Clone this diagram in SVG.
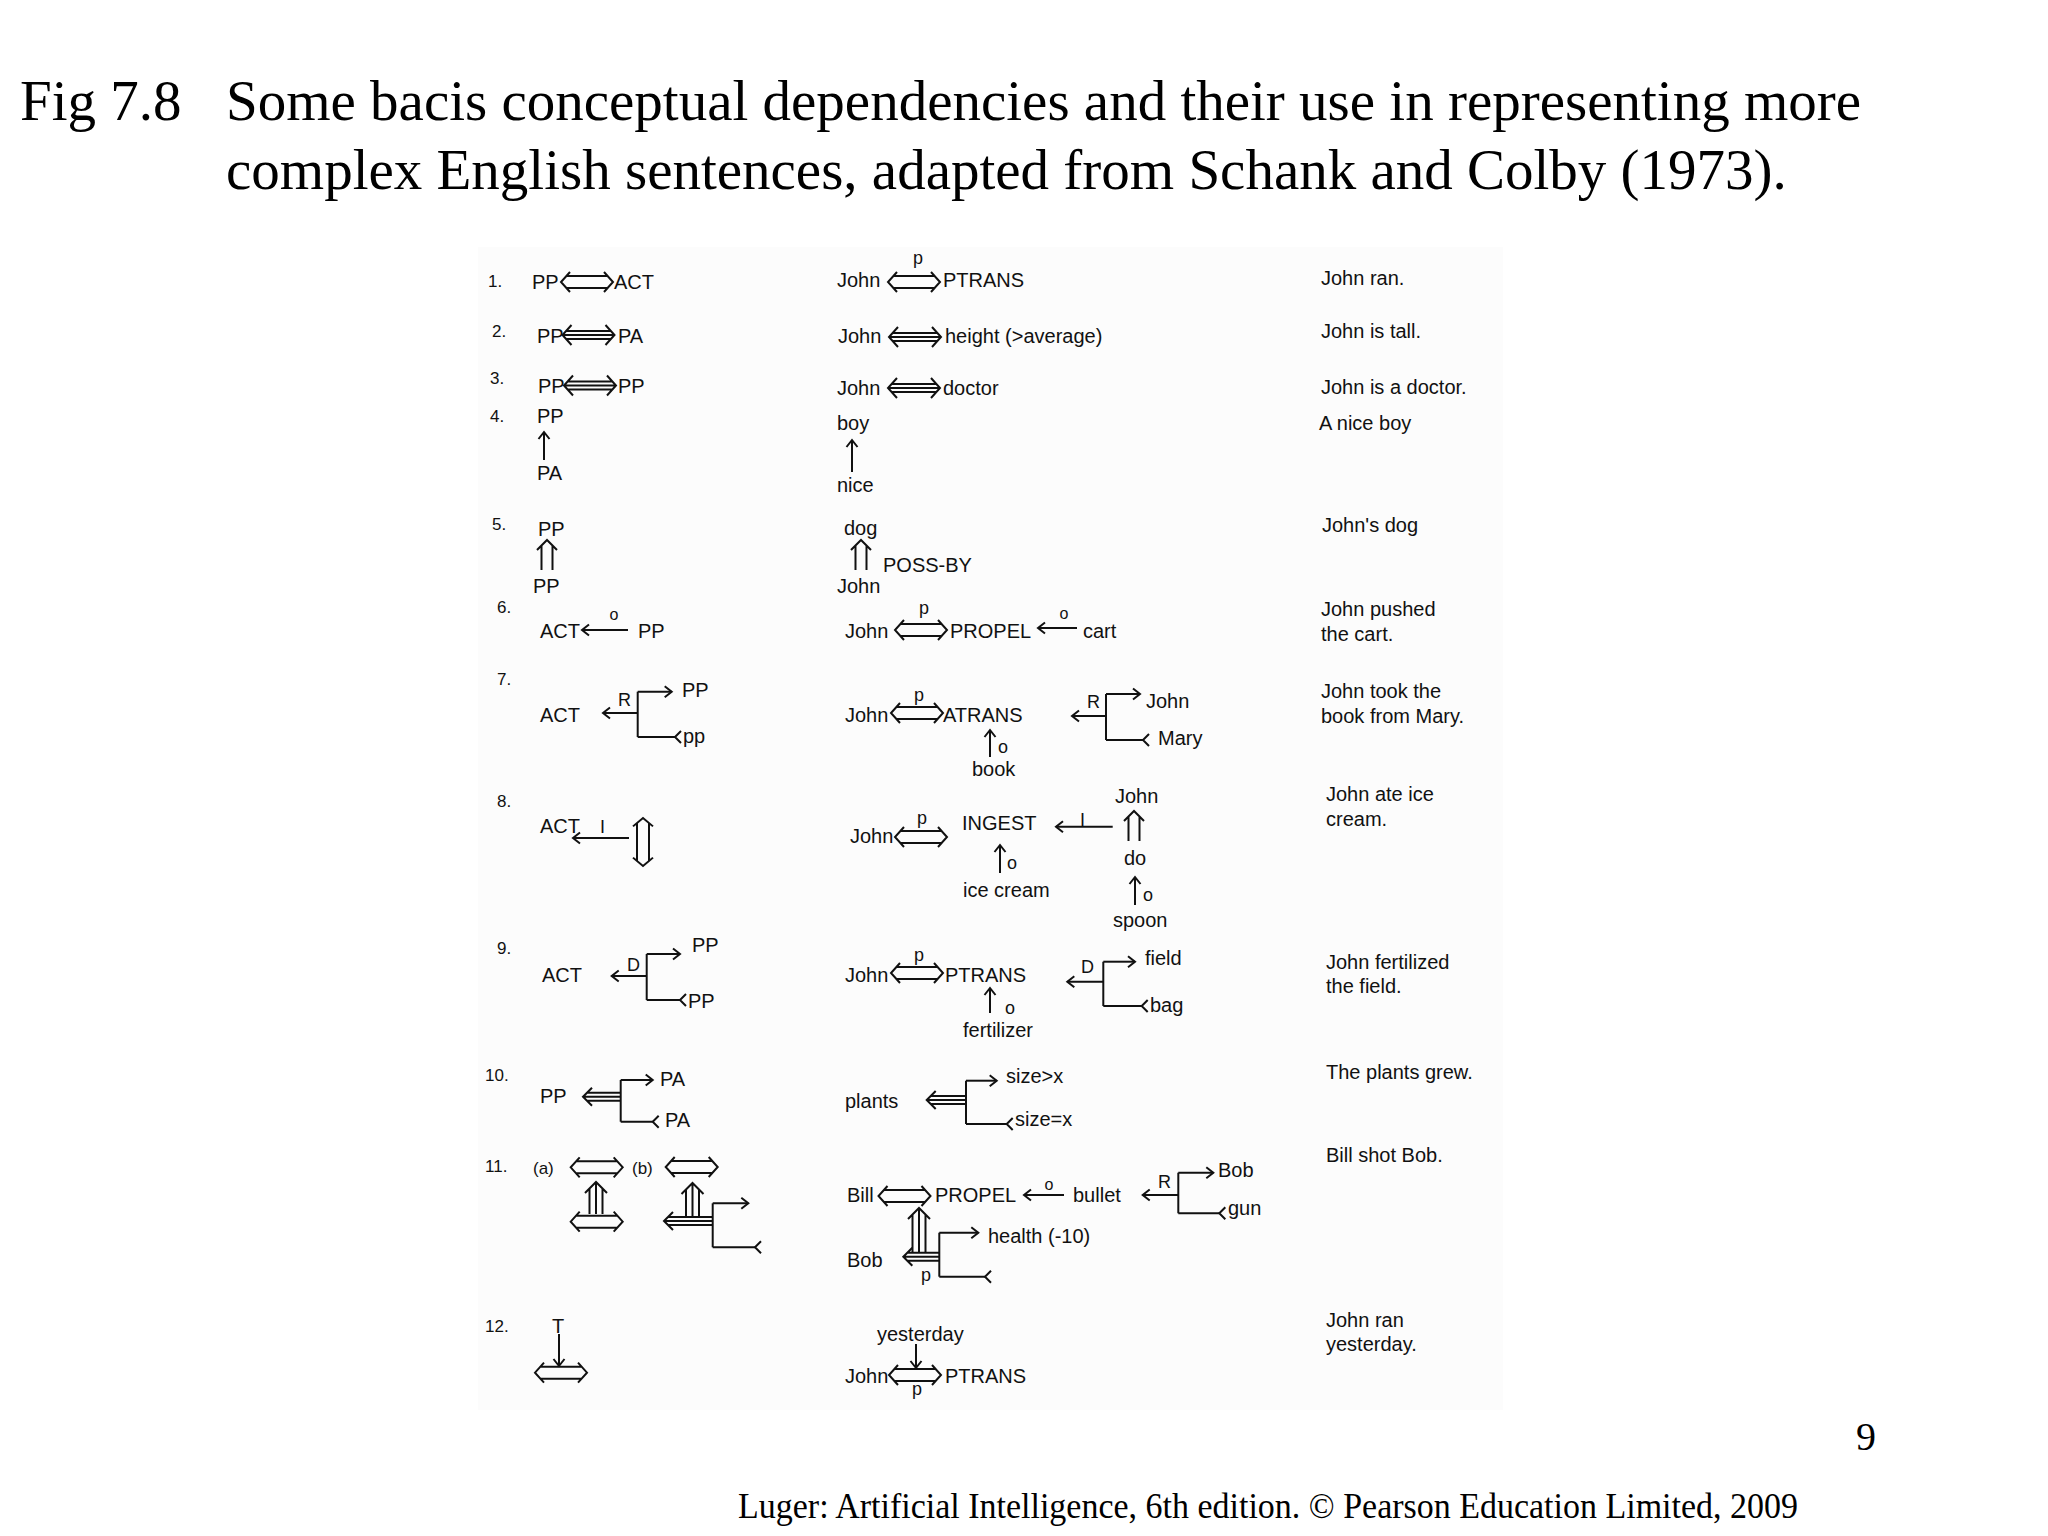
<svg xmlns="http://www.w3.org/2000/svg" width="2048" height="1536" viewBox="0 0 2048 1536">
<style>
.t{font-family:"Liberation Sans",Arial,sans-serif;font-size:20px;fill:#111}
.n{font-size:17px}
.s{font-size:18px}
.o{font-size:16px}
.m{text-anchor:middle}
.ln{fill:none;stroke:#111;stroke-width:2}
.ttl{font-family:"Liberation Serif","Times New Roman",serif;font-size:57px;fill:#000}
.ft{font-family:"Liberation Serif","Times New Roman",serif;fill:#000}
</style>
<defs>
<marker id="ah" viewBox="-10 -10 20 20" markerWidth="20" markerHeight="20" refX="0" refY="0" orient="auto" markerUnits="userSpaceOnUse"><path d="M-7,-5.5 L0,0 L-7,5.5" fill="none" stroke="#111" stroke-width="2"/></marker>
<marker id="tl" viewBox="-10 -10 20 20" markerWidth="20" markerHeight="20" refX="0" refY="0" orient="auto" markerUnits="userSpaceOnUse"><path d="M6,-6 L0,0 L6,6" fill="none" stroke="#111" stroke-width="2"/></marker>
<path id="dbl" class="ln" d="M-17,-10 L-26,0 L-17,10 M17,-10 L26,0 L17,10 M-20.6,-6 H20.6 M-20.6,6 H20.6"/>
<path id="tri" class="ln" d="M-17,-10 L-26,0 L-17,10 M17,-10 L26,0 L17,10 M-22.4,-4 H22.4 M-22.4,4 H22.4 M-25,0 H25"/>
<path id="dup" class="ln" d="M-10,10 L0,0 L10,10 M-5.5,5.5 V30 M5.5,5.5 V30"/>
</defs>
<rect width="2048" height="1536" fill="#fff"/>
<rect x="478" y="247" width="1025" height="1163" fill="#fcfcfc"/>

<g id="title">
<text class="ttl" x="20" y="120">Fig 7.8</text>
<text class="ttl" x="226" y="120">Some bacis conceptual dependencies and their use in representing more</text>
<text class="ttl" x="226" y="189">complex English sentences, adapted from Schank and Colby (1973).</text>
</g>

<g id="row-numbers" class="t n">
<text x="488" y="287">1.</text>
<text x="492" y="337">2.</text>
<text x="490" y="384">3.</text>
<text x="490" y="422">4.</text>
<text x="492" y="530">5.</text>
<text x="497" y="613">6.</text>
<text x="497" y="685">7.</text>
<text x="497" y="807">8.</text>
<text x="497" y="954">9.</text>
<text x="485" y="1081">10.</text>
<text x="485" y="1172">11.</text>
<text x="485" y="1332">12.</text>
</g>

<g id="r1-schema" class="t"><text x="532" y="289">PP</text><text x="614" y="289">ACT</text></g>
<g id="r2-schema" class="t"><text x="537" y="343">PP</text><text x="618" y="343">PA</text></g>
<g id="r3-schema" class="t"><text x="538" y="393">PP</text><text x="618" y="393">PP</text></g>
<g id="r4-schema" class="t"><text x="537" y="423">PP</text><text x="537" y="480">PA</text></g>
<g id="r5-schema" class="t"><text x="538" y="536">PP</text><text x="533" y="593">PP</text></g>
<g id="r6-schema" class="t"><text x="540" y="638">ACT</text><text class="o m" x="614" y="620">o</text><text x="638" y="638">PP</text></g>
<g id="r7-schema" class="t"><text x="540" y="722">ACT</text><text class="s" x="618" y="706">R</text><text x="682" y="697">PP</text><text x="683" y="743">pp</text></g>
<g id="r8-schema" class="t"><text x="540" y="833">ACT</text><text class="s" x="600" y="833">I</text></g>
<g id="r9-schema" class="t"><text x="542" y="982">ACT</text><text class="s" x="627" y="971">D</text><text x="692" y="952">PP</text><text x="688" y="1008">PP</text></g>
<g id="r10-schema" class="t"><text x="540" y="1103">PP</text><text x="660" y="1086">PA</text><text x="665" y="1127">PA</text></g>
<g id="r11-schema" class="t"><text class="n" x="533" y="1174">(a)</text><text class="n" x="632" y="1174">(b)</text></g>
<g id="r12-schema" class="t"><text class="m" x="558" y="1333">T</text></g>

<g id="r1-example" class="t"><text x="837" y="287">John</text><text class="s m" x="918" y="264">p</text><text x="943" y="287">PTRANS</text></g>
<g id="r2-example" class="t"><text x="838" y="343">John</text><text x="945" y="343">height (&gt;average)</text></g>
<g id="r3-example" class="t"><text x="837" y="395">John</text><text x="943" y="395">doctor</text></g>
<g id="r4-example" class="t"><text x="837" y="430">boy</text><text x="837" y="492">nice</text></g>
<g id="r5-example" class="t"><text x="844" y="535">dog</text><text x="883" y="572">POSS-BY</text><text x="837" y="593">John</text></g>
<g id="r6-example" class="t"><text x="845" y="638">John</text><text class="s m" x="924" y="614">p</text><text x="950" y="638">PROPEL</text><text class="o m" x="1064" y="619">o</text><text x="1083" y="638">cart</text></g>
<g id="r7-example" class="t"><text x="845" y="722">John</text><text class="s m" x="919" y="701">p</text><text x="943" y="722">ATRANS</text><text class="s" x="998" y="753">o</text><text x="972" y="776">book</text><text class="s" x="1087" y="708">R</text><text x="1146" y="708">John</text><text x="1158" y="745">Mary</text></g>
<g id="r8-example" class="t"><text x="850" y="843">John</text><text class="s m" x="922" y="824">p</text><text x="962" y="830">INGEST</text><text class="s" x="1007" y="869">o</text><text x="963" y="897">ice cream</text><text class="s" x="1080" y="826">I</text><text x="1115" y="803">John</text><text x="1124" y="865">do</text><text class="s" x="1143" y="901">o</text><text x="1113" y="927">spoon</text></g>
<g id="r9-example" class="t"><text x="845" y="982">John</text><text class="s m" x="919" y="961">p</text><text x="945" y="982">PTRANS</text><text class="s" x="1005" y="1014">o</text><text x="963" y="1037">fertilizer</text><text class="s" x="1081" y="973">D</text><text x="1145" y="965">field</text><text x="1150" y="1012">bag</text></g>
<g id="r10-example" class="t"><text x="845" y="1108">plants</text><text x="1006" y="1083">size&gt;x</text><text x="1015" y="1126">size=x</text></g>
<g id="r11-example" class="t"><text x="847" y="1202">Bill</text><text x="935" y="1202">PROPEL</text><text class="o m" x="1049" y="1190">o</text><text x="1073" y="1202">bullet</text><text class="s" x="1158" y="1188">R</text><text x="1218" y="1177">Bob</text><text x="1228" y="1215">gun</text><text x="847" y="1267">Bob</text><text class="s m" x="926" y="1281">p</text><text x="988" y="1243">health (-10)</text></g>
<g id="r12-example" class="t"><text x="877" y="1341">yesterday</text><text x="845" y="1383">John</text><text x="945" y="1383">PTRANS</text><text class="s m" x="917" y="1395">p</text></g>

<g id="sentences" class="t">
<text x="1321" y="285">John ran.</text>
<text x="1321" y="338">John is tall.</text>
<text x="1321" y="394">John is a doctor.</text>
<text x="1319" y="430">A nice boy</text>
<text x="1322" y="532">John's dog</text>
<text x="1321" y="616">John pushed</text>
<text x="1321" y="641">the cart.</text>
<text x="1321" y="698">John took the</text>
<text x="1321" y="723">book from Mary.</text>
<text x="1326" y="801">John ate ice</text>
<text x="1326" y="826">cream.</text>
<text x="1326" y="969">John fertilized</text>
<text x="1326" y="993">the field.</text>
<text x="1326" y="1079">The plants grew.</text>
<text x="1326" y="1162">Bill shot Bob.</text>
<text x="1326" y="1327">John ran</text>
<text x="1326" y="1351">yesterday.</text>
</g>

<g id="connectors">
<use href="#dbl" x="587" y="282"/>
<use href="#tri" x="588.5" y="335"/>
<use href="#tri" x="590" y="385.5"/>
<path class="ln" d="M544,460 V432" marker-end="url(#ah)"/>
<use href="#dup" x="547" y="540"/>
<path class="ln" d="M628,630 H582" marker-end="url(#ah)"/>
<path class="ln" d="M637.7,713 H603" marker-end="url(#ah)"/>
<path class="ln" d="M637.7,691.7 V737"/>
<path class="ln" d="M637.7,691.7 H671.7" marker-end="url(#ah)"/>
<path class="ln" d="M637.7,737 H675" marker-end="url(#tl)"/>
<path class="ln" d="M629,838 H573" marker-end="url(#ah)"/>
<use href="#dbl" transform="translate(643,842) rotate(90) scale(0.92,1)"/>
<path class="ln" d="M646.7,976 H611.7" marker-end="url(#ah)"/>
<path class="ln" d="M646.7,954 V1000"/>
<path class="ln" d="M646.7,954 H680" marker-end="url(#ah)"/>
<path class="ln" d="M646.7,1000 H680" marker-end="url(#tl)"/>
<path class="ln" d="M592,1087.7 L583,1096.7 L592,1105.7 M587,1092.7 H620.7 M584,1096.7 H620.7 M587,1100.7 H620.7"/>
<path class="ln" d="M620.7,1080 V1121.7"/>
<path class="ln" d="M620.7,1080 H652.7" marker-end="url(#ah)"/>
<path class="ln" d="M620.7,1121.7 H652.7" marker-end="url(#tl)"/>
<use href="#dbl" x="596.7" y="1167.3"/>
<path class="ln" d="M585,1193 L596,1182 L607,1193 M589.5,1188.5 V1214 M596,1183 V1214 M602.5,1188.5 V1214"/>
<use href="#dbl" x="596.7" y="1221.7"/>
<use href="#dbl" x="691.7" y="1167"/>
<path class="ln" d="M681.5,1194 L692.5,1183 L703.5,1194 M686,1189.5 V1217 M692.5,1184 V1217 M699,1189.5 V1217"/>
<path class="ln" d="M673,1212 L664,1221 L673,1230 M668,1217 H712.7 M665,1221 H712.7 M668,1225 H712.7"/>
<path class="ln" d="M712.7,1203.3 V1247.3"/>
<path class="ln" d="M712.7,1203.3 H748.3" marker-end="url(#ah)"/>
<path class="ln" d="M712.7,1247.3 H755" marker-end="url(#tl)"/>
<path class="ln" d="M559,1334 V1366" marker-end="url(#ah)"/>
<use href="#dbl" x="561" y="1372.7"/>

<use href="#dbl" x="914" y="282"/>
<use href="#tri" x="915" y="337"/>
<use href="#tri" x="914" y="388"/>
<path class="ln" d="M852,472 V440" marker-end="url(#ah)"/>
<use href="#dup" x="861" y="540"/>
<use href="#dbl" x="921" y="630"/>
<path class="ln" d="M1077,628 H1038" marker-end="url(#ah)"/>
<use href="#dbl" x="917" y="713"/>
<path class="ln" d="M990,757 V730" marker-end="url(#ah)"/>
<path class="ln" d="M1106,716 H1072" marker-end="url(#ah)"/>
<path class="ln" d="M1106,694 V740"/>
<path class="ln" d="M1106,694 H1140" marker-end="url(#ah)"/>
<path class="ln" d="M1106,740 H1143" marker-end="url(#tl)"/>
<use href="#dbl" x="921" y="837"/>
<path class="ln" d="M1000,873 V845" marker-end="url(#ah)"/>
<path class="ln" d="M1112.7,826.7 H1056" marker-end="url(#ah)"/>
<use href="#dup" x="1134" y="811"/>
<path class="ln" d="M1135,905 V877" marker-end="url(#ah)"/>
<use href="#dbl" x="917" y="973"/>
<path class="ln" d="M990,1013 V988" marker-end="url(#ah)"/>
<path class="ln" d="M1103.3,981.7 H1067.3" marker-end="url(#ah)"/>
<path class="ln" d="M1103.3,961.7 V1006"/>
<path class="ln" d="M1103.3,961.7 H1135" marker-end="url(#ah)"/>
<path class="ln" d="M1103.3,1006 H1141.7" marker-end="url(#tl)"/>
<path class="ln" d="M935.7,1091 L926.7,1100 L935.7,1109 M930.7,1096 H966 M927.7,1100 H966 M930.7,1104 H966"/>
<path class="ln" d="M966,1080.7 V1124"/>
<path class="ln" d="M966,1080.7 H996.7" marker-end="url(#ah)"/>
<path class="ln" d="M966,1124 H1006.7" marker-end="url(#tl)"/>
<use href="#dbl" x="904.5" y="1196"/>
<path class="ln" d="M1064,1195 H1024" marker-end="url(#ah)"/>
<path class="ln" d="M1178.3,1195 H1142.7" marker-end="url(#ah)"/>
<path class="ln" d="M1178.3,1172.7 V1213.3"/>
<path class="ln" d="M1178.3,1172.7 H1213.3" marker-end="url(#ah)"/>
<path class="ln" d="M1178.3,1213.3 H1219.3" marker-end="url(#tl)"/>
<path class="ln" d="M908,1219 L919,1208 L930,1219 M912.5,1214.5 V1252.7 M919,1209 V1252.7 M925.5,1214.5 V1252.7"/>
<path class="ln" d="M912.3,1247.7 L903.3,1256.7 L912.3,1265.7 M907.3,1252.7 H939.3 M904.3,1256.7 H939.3 M907.3,1260.7 H939.3"/>
<path class="ln" d="M939.3,1232.7 V1276.7"/>
<path class="ln" d="M939.3,1232.7 H978.3" marker-end="url(#ah)"/>
<path class="ln" d="M939.3,1276.7 H985" marker-end="url(#tl)"/>
<path class="ln" d="M916,1344 V1368" marker-end="url(#ah)"/>
<use href="#dbl" x="915" y="1375"/>
</g>

<g id="footer">
<text class="ft" x="1856" y="1450" font-size="40">9</text>
<text class="ft" x="738" y="1518" font-size="36" textLength="1060" lengthAdjust="spacingAndGlyphs">Luger: Artificial Intelligence, 6th edition. © Pearson Education Limited, 2009</text>
</g>
</svg>
